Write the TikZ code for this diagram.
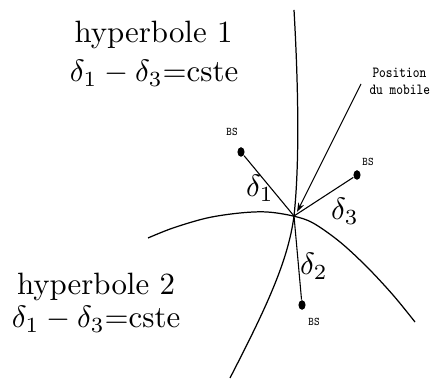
\documentclass[tikz,border=0pt]{standalone}
\usetikzlibrary{shapes.geometric,arrows.meta}
\begin{document}
\begin{tikzpicture}[x=0.324pt,y=-0.324pt,
 curve/.style={line width=0.4pt},
 ray/.style={line width=0.35pt},
 big/.style={font=\fontsize{10}{12}\selectfont, inner sep=0, anchor=base},
 bsdot/.style={ellipse, fill=black, inner sep=0, minimum width=2.3pt, minimum height=3.1pt},
 bslabel/.style={font=\ttfamily\fontsize{3.8}{4.5}\selectfont, inner sep=0, xscale=0.9},
 poslabel/.style={font=\ttfamily\fontsize{5}{6}\selectfont, inner sep=0, anchor=base west, xscale=0.82},
 dlabel/.style={inner sep=0}]
\useasboundingbox (0,0) rectangle (430,381);
% mobile position
\coordinate (M) at (294,216);
\coordinate (Mt) at (297,212);
\coordinate (P) at (361,84);
% hyperbolas
\draw[curve] (294,10) .. controls (298,80) and (300,160) .. (M)
  .. controls (288,262) and (265,310) .. (230,378);
\draw[curve] plot[smooth, tension=0.55] coordinates {(148,238) (173,228) (207,218) (240,213) (267,212) (293,216) (313,223) (340,242) (367,267) (393,295) (415,322)};
% base stations
\node[bsdot] (bs1) at (241,152) {};
\node[bsdot] (bs2) at (302,305) {};
\node[bsdot] (bs3) at (357,175) {};
\node[bslabel] (l1) at (232,132) {BS};
\node[bslabel] (l2) at (314,322) {BS};
\node[bslabel] (l3) at (368,162) {BS};
\draw[ray] (bs1) -- (M);
\draw[ray] (bs2) -- (M);
\draw[ray] (bs3) -- (M);
\draw[ray, -{Stealth[length=3pt,width=2pt]}] (P) -- (Mt);
% labels
\node[dlabel] (d1) at (260,188) {$\delta_1$};
\node[dlabel] (d3) at (345,211) {$\delta_3$};
\node[dlabel] (d2) at (314,266) {$\delta_2$};
\node[poslabel] (pos1) at (372,78) {Position};
\node[poslabel] (pos2) at (369,95) {du mobile};
\node[big] (h1) at (153.5,43) {hyperbole 1};
\node[big] (e1) at (154,82) {$\delta_1-\delta_3$=cste};
\node[big] (h2) at (96,295) {hyperbole 2};
\node[big] (e2) at (96,328) {$\delta_1-\delta_3$=cste};
\end{tikzpicture}
\end{document}
